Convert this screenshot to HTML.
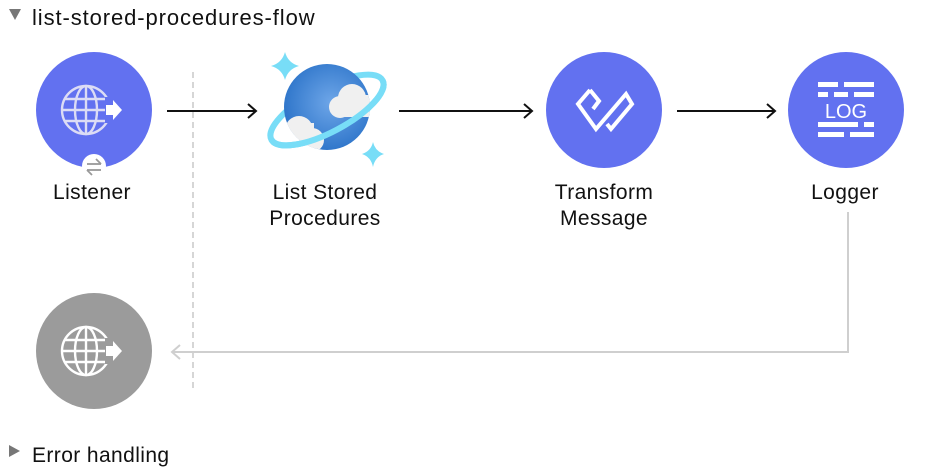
<!DOCTYPE html>
<html><head><meta charset="utf-8"><style>
html,body{margin:0;padding:0;background:#fff;width:942px;height:476px;overflow:hidden}
svg text{font-family:"Liberation Sans",sans-serif;fill:#111}
</style></head><body>
<svg width="942" height="476" viewBox="0 0 942 476" xmlns="http://www.w3.org/2000/svg">
<defs>
<radialGradient id="gl" cx="0.55" cy="0.45" r="0.6"><stop offset="0" stop-color="#6ea6e8"/><stop offset="1" stop-color="#2a72c8"/></radialGradient>
<clipPath id="gc"><circle cx="327" cy="107" r="43"/></clipPath>
<g id="globe" fill="none" stroke-width="2.4">
<circle cx="0" cy="0" r="24"/>
<ellipse cx="0" cy="0" rx="11" ry="24"/>
<line x1="0" y1="-24" x2="0" y2="24"/>
<line x1="-24" y1="0" x2="24" y2="0"/>
<line x1="-21" y1="-11" x2="21" y2="-11"/>
<line x1="-21" y1="11" x2="21" y2="11"/>
</g>
</defs>
<polygon points="9,9 21,9 15,20" fill="#777"/>
<text x="32" y="25" font-size="22" letter-spacing="0.9">list-stored-procedures-flow</text>
<line x1="193" y1="72" x2="193" y2="388" stroke="#c8c8c8" stroke-width="1.5" stroke-dasharray="6,4"/>
<g stroke="#111" stroke-width="2" fill="none">
<line x1="167" y1="111" x2="256" y2="111"/><polyline points="248,104 256,111 248,118"/>
<line x1="399" y1="111" x2="532" y2="111"/><polyline points="524,104 532,111 524,118"/>
<line x1="677" y1="111" x2="775" y2="111"/><polyline points="767,104 775,111 767,118"/>
</g>
<g stroke="#cfcfcf" stroke-width="2" fill="none">
<polyline points="848,212 848,352 172,352"/><polyline points="180,345 172,352 180,359"/>
</g>
<!-- listener -->
<circle cx="94" cy="110" r="58" fill="#6271f0"/>
<g transform="translate(86,110)" stroke="#dcdcf5"><use href="#globe"/></g>
<rect x="105" y="97" width="10" height="26" fill="#6271f0"/>
<polygon points="106,105 113,105 113,100 122,110 113,120 113,115 106,115" fill="#fff"/>
<circle cx="94" cy="166" r="12" fill="#fff"/>
<g stroke="#999" stroke-width="1.8" fill="none"><line x1="87" y1="164" x2="101" y2="164"/><line x1="87" y1="170" x2="101" y2="170"/><line x1="96" y1="159" x2="101" y2="164"/><line x1="87" y1="170" x2="92" y2="175"/></g>
<text x="92" y="199" font-size="21" letter-spacing="0.4" text-anchor="middle">Listener</text>
<!-- cosmos -->
<g transform="rotate(-28 327 110)"><ellipse cx="327" cy="110" rx="63" ry="22" fill="none" stroke="#78ddf7" stroke-width="6"/></g>
<circle cx="327" cy="107" r="43" fill="url(#gl)"/>
<g clip-path="url(#gc)" fill="#f0f0f0">
<circle cx="299" cy="130" r="14"/><circle cx="312" cy="140" r="12"/><rect x="282" y="123" width="32" height="30"/>
<circle cx="352" cy="98" r="14"/><circle cx="340" cy="107" r="11"/><rect x="340" y="95" width="30" height="22"/>
</g>
<g transform="rotate(-28 327 110)"><path d="M264,110 A63,22 0 0 0 390,110" fill="none" stroke="#78ddf7" stroke-width="6"/></g>
<path d="M285,52 Q288,63 299,66 Q288,69 285,80 Q282,69 271,66 Q282,63 285,52Z" fill="#78ddf7"/>
<path d="M373,142 Q375,151 384,154 Q375,157 373,167 Q371,157 362,154 Q371,151 373,142Z" fill="#78ddf7"/>
<text x="325" y="199" font-size="21" letter-spacing="0.4" text-anchor="middle">List Stored</text>
<text x="325" y="225" font-size="21" letter-spacing="0.4" text-anchor="middle">Procedures</text>
<!-- transform -->
<circle cx="604" cy="110" r="58" fill="#6271f0"/>
<g fill="none" stroke="#fff" stroke-width="4" stroke-linejoin="miter">
<polyline points="590,90 578,104 596,129 626,94 632,104 611,129 607,124"/>
<polyline points="590,90 599,101 593,109"/>
</g>
<text x="604" y="199" font-size="21" letter-spacing="0.4" text-anchor="middle">Transform</text>
<text x="604" y="225" font-size="21" letter-spacing="0.4" text-anchor="middle">Message</text>
<!-- logger -->
<circle cx="846" cy="110" r="58" fill="#6271f0"/>
<g fill="#fff">
<rect x="818" y="82" width="20" height="5"/><rect x="844" y="82" width="30" height="5"/>
<rect x="818" y="92" width="10" height="5"/><rect x="834" y="92" width="14" height="5"/><rect x="854" y="92" width="20" height="5"/>
<rect x="818" y="122" width="40" height="5"/><rect x="864" y="122" width="10" height="5"/>
<rect x="818" y="132" width="26" height="5"/><rect x="850" y="132" width="24" height="5"/>
</g>
<text x="846" y="118" font-size="20" text-anchor="middle" style="fill:#fff">LOG</text>
<text x="845" y="199" font-size="21" letter-spacing="0.4" text-anchor="middle">Logger</text>
<!-- error -->
<circle cx="94" cy="351" r="58" fill="#9b9b9b"/>
<g transform="translate(86,351)" stroke="#fff"><use href="#globe"/></g>
<rect x="105" y="338" width="10" height="26" fill="#9b9b9b"/>
<polygon points="106,346 113,346 113,341 122,351 113,361 113,356 106,356" fill="#fff"/>
<polygon points="9,445 20,451 9,457" fill="#777"/>
<text x="32" y="462" font-size="21" letter-spacing="0.4">Error handling</text>
</svg>
</body></html>
